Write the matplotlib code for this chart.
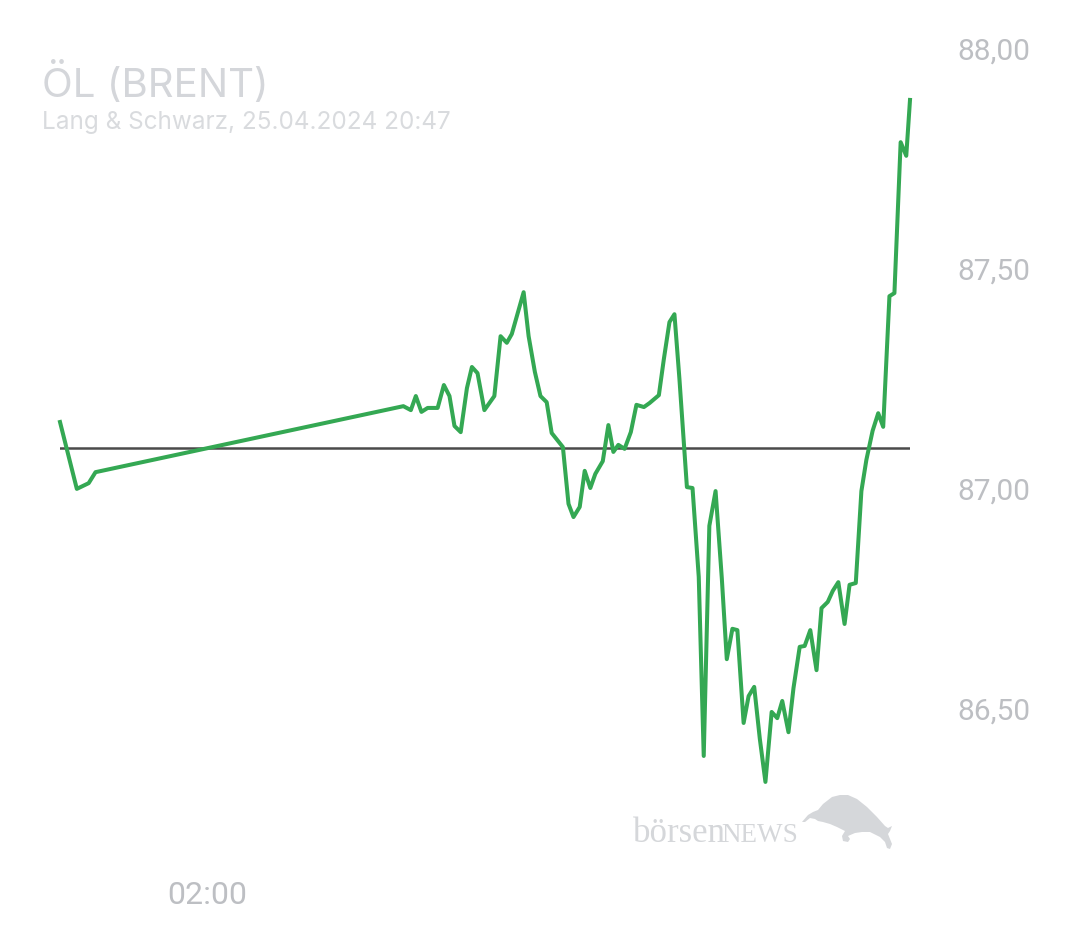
import matplotlib
matplotlib.use("Agg")
import matplotlib.pyplot as plt
import matplotlib.dates as mdates
from matplotlib.patches import Polygon
import pandas as pd

# ---- data -------------------------------------------------------------
times = [
    "2024-04-24 22:03", "2024-04-24 22:30", "2024-04-24 22:49", "2024-04-24 23:00",
    "2024-04-25 07:14", "2024-04-25 07:26", "2024-04-25 07:34", "2024-04-25 07:43",
    "2024-04-25 07:53", "2024-04-25 08:09", "2024-04-25 08:19", "2024-04-25 08:28",
    "2024-04-25 08:36", "2024-04-25 08:46", "2024-04-25 08:56", "2024-04-25 09:04",
    "2024-04-25 09:13", "2024-04-25 09:24", "2024-04-25 09:40", "2024-04-25 09:50",
    "2024-04-25 10:00", "2024-04-25 10:08", "2024-04-25 10:27", "2024-04-25 10:35",
    "2024-04-25 10:45", "2024-04-25 10:54", "2024-04-25 11:04", "2024-04-25 11:12",
    "2024-04-25 11:30", "2024-04-25 11:39", "2024-04-25 11:47", "2024-04-25 11:57",
    "2024-04-25 12:05", "2024-04-25 12:14", "2024-04-25 12:22", "2024-04-25 12:34",
    "2024-04-25 12:43", "2024-04-25 12:51", "2024-04-25 12:59", "2024-04-25 13:09",
    "2024-04-25 13:19", "2024-04-25 13:28", "2024-04-25 13:40", "2024-04-25 13:49",
    "2024-04-25 14:04", "2024-04-25 14:12", "2024-04-25 14:21", "2024-04-25 14:29",
    "2024-04-25 14:37", "2024-04-25 14:49", "2024-04-25 14:58", "2024-04-25 15:08",
    "2024-04-25 15:16", "2024-04-25 15:25", "2024-04-25 15:35", "2024-04-25 15:45",
    "2024-04-25 15:53", "2024-04-25 16:02", "2024-04-25 16:10", "2024-04-25 16:20",
    "2024-04-25 16:28", "2024-04-25 16:37", "2024-04-25 16:46", "2024-04-25 16:55",
    "2024-04-25 17:05", "2024-04-25 17:14", "2024-04-25 17:22", "2024-04-25 17:32",
    "2024-04-25 17:40", "2024-04-25 17:50", "2024-04-25 17:58", "2024-04-25 18:07",
    "2024-04-25 18:17", "2024-04-25 18:25", "2024-04-25 18:35", "2024-04-25 18:43",
    "2024-04-25 18:52", "2024-04-25 19:02", "2024-04-25 19:10", "2024-04-25 19:20",
    "2024-04-25 19:29", "2024-04-25 19:37", "2024-04-25 19:47", "2024-04-25 19:56",
    "2024-04-25 20:04", "2024-04-25 20:14", "2024-04-25 20:22", "2024-04-25 20:32",
    "2024-04-25 20:41", "2024-04-25 20:47",
]
prices = [
    87.150, 86.998, 87.011, 87.036,
    87.186, 87.177, 87.209, 87.173,
    87.182, 87.182, 87.234, 87.209,
    87.141, 87.127, 87.227, 87.275,
    87.261, 87.177, 87.209, 87.345,
    87.330, 87.350, 87.445, 87.345,
    87.264, 87.209, 87.195, 87.125,
    87.093, 86.964, 86.934, 86.957,
    87.039, 87.000, 87.032, 87.061,
    87.143, 87.082, 87.098, 87.089,
    87.127, 87.189, 87.184, 87.193,
    87.211, 87.293, 87.377, 87.395,
    87.248, 87.002, 87.000, 86.798,
    86.391, 86.914, 86.993, 86.795,
    86.611, 86.680, 86.677, 86.466,
    86.527, 86.548, 86.430, 86.332,
    86.491, 86.477, 86.516, 86.445,
    86.545, 86.639, 86.641, 86.677,
    86.586, 86.727, 86.741, 86.766,
    86.786, 86.691, 86.780, 86.784,
    86.993, 87.064, 87.130, 87.170,
    87.139, 87.436, 87.443, 87.786,
    87.755, 87.882,
]
prev_close = 87.091
y_ticks = [86.5, 87.0, 87.5, 88.0]
x_ticks = ["2024-04-25 02:00"]
title = "ÖL (BRENT)"
subtitle = "Lang & Schwarz, 25.04.2024 20:47"

# ---- figure -----------------------------------------------------------
W, H = 1080, 945
t = pd.to_datetime(times)
fig = plt.figure(figsize=(W / 100, H / 100), dpi=100)
fig.patch.set_facecolor("white")
ax = fig.add_axes([60 / W, 1 - 860 / H, 850 / W, 820 / H])

ax.plot(t, prices, color="#34a853", lw=2.9, zorder=3, clip_on=False)
ax.axhline(prev_close, color="#4a4a4a", lw=1.8, zorder=2)

ax.set_xlim(t[0], t[-1])
ax.set_ylim(86.1568, 88.0205)

for s in ax.spines.values():
    s.set_visible(False)

ax.yaxis.tick_right()
ax.set_yticks(y_ticks)
ax.set_yticklabels([f"{v:.2f}".replace(".", ",") for v in y_ticks])
ax.tick_params(axis="y", length=0, pad=34, labelsize=21.5, labelcolor="#bdbfc3")
for lbl in ax.get_yticklabels():
    lbl.set_fontfamily("Roboto")

ax.set_xticks(pd.to_datetime(x_ticks))
ax.xaxis.set_major_formatter(mdates.DateFormatter("%H:%M"))
ax.tick_params(axis="x", length=0, pad=15, labelsize=23, labelcolor="#bdbfc3")
for lbl in ax.get_xticklabels():
    lbl.set_fontfamily("Roboto")

fig.text(42 / W, 1 - 97 / H, title, fontsize=29, color="#d4d6da",
         family="Inter", va="baseline", ha="left")
fig.text(42 / W, 1 - 129 / H, subtitle, fontsize=17.5, color="#d9dbde",
         family="Inter", va="baseline", ha="left")

# watermark (decorative logo)
wm = "#d5d7da"
fig.text(633 / W, 1 - 842 / H, "börsen", fontsize=25, color=wm,
         family="Liberation Serif", va="baseline", ha="left")
fig.text(721 / W, 1 - 842 / H, "NEWS", fontsize=19.5, color=wm,
         family="Liberation Serif", va="baseline", ha="left")
bull_px = [(802, 823), (808, 816), (813, 813), (818, 811), (823, 805), (832, 798),
           (840, 796), (848, 796), (857, 800), (867, 808), (877, 818), (885, 827),
           (888, 829), (892, 827), (890, 832), (888, 835), (890, 840), (892, 845),
           (890, 850), (887, 849), (885, 843), (880, 838), (870, 833), (862, 833),
           (855, 834), (848, 837), (850, 840), (848, 843), (843, 842), (842, 837),
           (845, 832), (837, 828), (830, 825), (823, 823), (818, 822), (815, 820),
           (810, 819), (805, 823)]
fig.patches.append(Polygon([(x / W, 1 - y / H) for x, y in bull_px], closed=True,
                           facecolor=wm, edgecolor="none",
                           transform=fig.transFigure, figure=fig))

fig.savefig("out.png", dpi=100, facecolor="white")
